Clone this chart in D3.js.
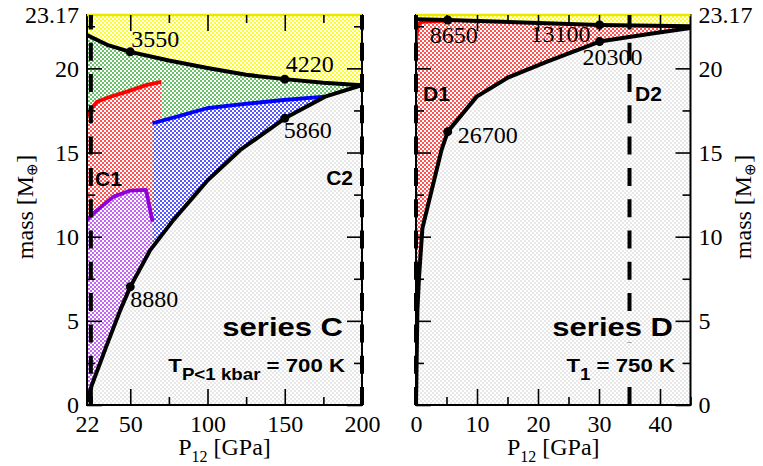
<!DOCTYPE html>
<html>
<head>
<meta charset="utf-8">
<script src="https://cdn.jsdelivr.net/npm/d3@7"></script>
<style>
  body { margin: 0; background: #fff; }
  svg { display: block; }
</style>
</head>
<body>
<svg id="chart" width="763" height="466"></svg>
<script>
// ---- Series C: P12 pressure [GPa] vs. mass [Earth masses] ----
const cUpper  = [[22,21.98],[35,21.4],[50,20.98],[75,20.47],[100,20.02],[125,19.62],[150,19.36],[175,19.15],[200,19.0]];
const cLower  = [[22,0.2],[25.2,1.2],[35,3.6],[43.6,5.65],[50,7.02],[62.9,9.2],[78,11.0],[100.3,13.37],[121.2,15.15],[150,17.03],[176.1,18.32],[200,19.0]];
const cRed    = [[22,17.2],[25.2,17.63],[28.5,18.02],[37.1,18.31],[47.9,18.62],[60.8,19.02],[70,19.2]];
const cBlue   = [[64.4,16.74],[80.2,17.13],[99.6,17.63],[116.8,17.82],[149.2,18.12],[176.1,18.32]];
const cPurple = [[22,11.0],[27.4,11.49],[39.2,12.38],[50,12.74],[60.2,12.78],[64.4,10.9]];
const cMarked = [[50,20.98,"3550"],[150,19.36,"4220"],[150,17.03,"5860"],[50,7.02,"8880"]];
const cDivides = [[24.5,"C1"],[200,"C2"]];
const cXLabels = [22,50,100,150,200];
const cXMajor  = [50,100,150,200];
const cXMinor  = [25,75,125,175];

// ---- Series D ----
const dUpper  = [[0,22.92],[5.2,22.87],[30.1,22.58],[45,22.5]];
const dLower  = [[0,0],[0.12,3.0],[0.23,5.64],[0.5,7.62],[1.05,10.5],[4.18,15.15],[5.2,16.24],[9.95,18.32],[15.16,19.47],[21.5,20.4],[30.1,21.59],[39,22.08],[45,22.4]];
const dRed    = [[0,21.5],[0.1,22.0],[0.35,22.58],[0.9,22.76],[5.2,22.84]];
const dMarked = [[5.2,22.87,"8650"],[30.1,22.58,"13100"],[30.1,21.59,"20300"],[5.2,16.24,"26700"]];
const dDivides = [[0,"D1"],[35,"D2"]];
const dXLabels = [0,10,20,30,40];
const dXMajor  = [10,20,30,40];
const dXMinor  = [5,15,25,35,45];

// ---- shared mass axis ----
const massMax = 23.17;
const yMajor = [0,5,10,15,20];
const yMinor = [2.5,7.5,12.5,17.5,22.5];

// ---- layout ----
const plotTop = 15, plotBottom = 405;
const leftBox  = {x0: 87,  x1: 362};
const rightBox = {x0: 416, x1: 690.5};
const serif = "'Liberation Serif','Times New Roman',Times,serif";
const sans  = "'Liberation Sans',Arial,Helvetica,sans-serif";

// label placement relative to each marked point (px)
const cLabelPos = {"3550":[1,-5,"start"], "4220":[1,-7,"start"], "5860":[-1,20,"start"], "8880":[0,20,"start"]};
const dLabelPos = {"8650":[-18,23,"start"], "13100":[-9,17,"end"], "20300":[-17,23,"start"], "26700":[10,11,"start"]};

const svg = d3.select("#chart");
const defs = svg.append("defs");

// stippled fills
const fills = {
  yellow: ["#ffff00", 1.05], green: ["#2aa82a", 0.95], red: ["#ff1818", 1.0],
  blue: ["#2020ff", 1.0], purple: ["#b030f0", 1.0], grey: ["#dedede", 0.9]
};
Object.entries(fills).forEach(([k, [c, r]]) => {
  const p = defs.append("pattern").attr("id", "dots-" + k)
    .attr("patternUnits", "userSpaceOnUse").attr("width", 4).attr("height", 4);
  p.append("rect").attr("width", 4).attr("height", 4).attr("fill", "#fff");
  p.append("circle").attr("cx", 1).attr("cy", 1).attr("r", r).attr("fill", c);
  p.append("circle").attr("cx", 3).attr("cy", 3).attr("r", r).attr("fill", c);
});

function valueAt(curve, px) {
  for (let i = 0; i < curve.length - 1; i++) {
    const [xa, ya] = curve[i], [xb, yb] = curve[i + 1];
    if (px >= xa && px <= xb) return ya + (yb - ya) * (px - xa) / (xb - xa);
  }
  return curve[curve.length - 1][1];
}
const between = (curve, a, b) => curve.filter(d => d[0] > a && d[0] < b);
const rev = arr => arr.slice().reverse();

function makePanel(id, box, xDomain) {
  const x = d3.scaleLinear().domain(xDomain).range([box.x0, box.x1]);
  const y = d3.scaleLinear().domain([0, massMax]).range([plotBottom, plotTop]);
  const g = svg.append("g").attr("id", id);
  defs.append("clipPath").attr("id", "clip-" + id).append("rect")
    .attr("x", box.x0).attr("y", plotTop).attr("width", box.x1 - box.x0).attr("height", plotBottom - plotTop);
  const inner = g.append("g").attr("clip-path", `url(#clip-${id})`);
  const line = d3.line().x(d => x(d[0])).y(d => y(d[1]));
  const poly = pts => line(pts) + "Z";
  inner.append("rect").attr("x", box.x0).attr("y", plotTop)
    .attr("width", box.x1 - box.x0).attr("height", plotBottom - plotTop).attr("fill", "url(#dots-grey)");
  return {x, y, g, inner, line, poly, box};
}

function region(P, pts, key) {
  P.inner.append("path").attr("d", P.poly(pts)).attr("fill", `url(#dots-${key})`).attr("stroke", "none");
}
function topRegion(P, curve) {
  const area = d3.area().x(d => P.x(d[0])).y0(P.y(massMax)).y1(d => P.y(d[1]));
  P.inner.append("path").attr("d", area(curve)).attr("fill", "url(#dots-yellow)");
}
function stroke(P, curve, color, w) {
  P.inner.append("path").attr("d", P.line(curve)).attr("fill", "none")
    .attr("stroke", color).attr("stroke-width", w).attr("stroke-linejoin", "round");
}
function dividers(P, list) {
  list.forEach(([v]) => {
    P.g.append("line").attr("x1", P.x(v)).attr("x2", P.x(v))
      .attr("y1", P.y(0)).attr("y2", P.y(massMax))
      .attr("stroke", "#000").attr("stroke-width", 4).attr("stroke-dasharray", "18,13.3");
  });
}
function frame(P) {
  const b = P.box;
  P.g.append("rect").attr("x", b.x0).attr("y", plotTop).attr("width", b.x1 - b.x0)
    .attr("height", plotBottom - plotTop).attr("fill", "none").attr("stroke", "#000").attr("stroke-width", 2);
  P.g.append("line").attr("x1", b.x0).attr("x2", b.x1).attr("y1", plotTop).attr("y2", plotTop)
    .attr("stroke", "#e8e800").attr("stroke-width", 2.5);
}
function styleAxis(sel) {
  sel.select(".domain").remove();
  sel.attr("font-family", serif).attr("font-size", 24);
  sel.selectAll(".tick line").attr("stroke", "#000").attr("stroke-width", 1.6);
  sel.selectAll(".tick text").attr("fill", "#000");
}
function axes(P, xLabels, xMajor, xMinor, yLabelSide) {
  const {g, x, y} = P;
  const none = () => "";
  // bottom: labels and major ticks
  g.append("g").attr("transform", `translate(0,${plotBottom})`)
    .call(d3.axisBottom(x).tickValues(xLabels).tickSize(-16).tickPadding(10).tickFormat(d3.format("d")))
    .call(styleAxis);
  g.append("g").attr("transform", `translate(0,${plotBottom})`)
    .call(d3.axisBottom(x).tickValues(xMinor).tickSize(-8).tickFormat(none))
    .call(styleAxis);
  // top
  g.append("g").attr("transform", `translate(0,${plotTop})`)
    .call(d3.axisTop(x).tickValues(xMajor).tickSize(-16).tickFormat(none)).call(styleAxis);
  g.append("g").attr("transform", `translate(0,${plotTop})`)
    .call(d3.axisTop(x).tickValues(xMinor.filter(v => v < x.domain()[1])).tickSize(-8).tickFormat(none)).call(styleAxis);
  // left / right ticks
  [[d3.axisLeft, P.box.x0, "left"], [d3.axisRight, P.box.x1, "right"]].forEach(([mk, px, side]) => {
    const labelled = side === yLabelSide;
    g.append("g").attr("transform", `translate(${px},0)`)
      .call(mk(y).tickValues(yMajor).tickSize(-15).tickPadding(8)
        .tickFormat(labelled ? d3.format("d") : none)).call(styleAxis);
    g.append("g").attr("transform", `translate(${px},0)`)
      .call(mk(y).tickValues(yMinor).tickSize(-8).tickFormat(none)).call(styleAxis);
    if (labelled) {
      g.append("g").attr("transform", `translate(${px},0)`)
        .call(mk(y).tickValues([massMax]).tickSize(0).tickPadding(8).tickFormat(d3.format(".2f")))
        .call(styleAxis);
    }
  });
}
function markers(P, list, pos) {
  list.forEach(([px, m, lab]) => {
    P.g.append("circle").attr("cx", P.x(px)).attr("cy", P.y(m)).attr("r", 4.5).attr("fill", "#000");
    const [dx, dy, anchor] = pos[lab];
    P.g.append("text").attr("x", P.x(px) + dx).attr("y", P.y(m) + dy)
      .attr("text-anchor", anchor).attr("font-family", serif).attr("font-size", 24).attr("fill", "#000").text(lab);
  });
}
function xTitle(P) {
  const t = svg.append("text").attr("x", (P.box.x0 + P.box.x1) / 2).attr("y", 455)
    .attr("text-anchor", "middle").attr("font-family", serif).attr("font-size", 24).attr("fill", "#000");
  t.append("tspan").text("P");
  t.append("tspan").attr("font-size", 16).attr("dy", 6.5).text("12");
  t.append("tspan").attr("dy", -6.5).text(" [GPa]");
}
function yTitle(px) {
  const t = svg.append("text").attr("transform", `translate(${px},207) rotate(-90)`)
    .attr("text-anchor", "middle").attr("font-family", serif).attr("font-size", 24).attr("fill", "#000");
  t.append("tspan").text("mass [M");
  t.append("tspan").attr("font-size", 15).attr("dy", 4).text("\u2295");
  t.append("tspan").attr("dy", -4).text("]");
}
// bold panel caption; the backing keeps divider dashes from running through the words
function caption(xr, yb, sx, build) {
  const holder = svg.append("g");
  const back = holder.append("rect").attr("fill", "url(#dots-grey)");
  const gg = holder.append("g").attr("transform", `translate(${xr},${yb}) scale(${sx},1)`);
  const t = gg.append("text").attr("text-anchor", "end").attr("font-family", sans)
    .attr("font-weight", "bold").attr("fill", "#000");
  build(t);
  const bb = t.node().getBBox();
  back.attr("x", xr + bb.x * sx - 2).attr("y", yb + bb.y - 1)
    .attr("width", bb.width * sx + 4).attr("height", bb.height + 2);
}
function seriesLabel(xr, name, sub, rest) {
  caption(xr, 336, 1.24, t => t.attr("font-size", 25).text(name));
  caption(xr + 2, 372, 1.17, t => {
    t.attr("font-size", 19);
    t.append("tspan").text("T");
    t.append("tspan").attr("font-size", 16).attr("dy", 8).text(sub);
    t.append("tspan").attr("dy", -8).text(rest);
  });
}
function zoneLabel(px, py, txt, anchor) {
  svg.append("text").attr("x", px).attr("y", py).attr("text-anchor", anchor)
    .attr("font-family", sans).attr("font-weight", "bold").attr("font-size", 21).attr("fill", "#000").text(txt);
}

// ===== left panel: series C =====
const C = makePanel("seriesC", leftBox, [22, 200]);
topRegion(C, cUpper);
region(C, cUpper.concat(rev(cLower)), "green");
const blueX0 = cBlue[0][0], blueX1 = cBlue[cBlue.length - 1][0];
region(C, cBlue.concat(rev(between(cLower, blueX0, blueX1)), [[blueX0, valueAt(cLower, blueX0)]]), "blue");
region(C, cPurple.concat([[blueX0, valueAt(cLower, blueX0)]], rev(cLower.filter(d => d[0] < blueX0))), "purple");
const redX1 = cRed[cRed.length - 1][0];
region(C, cRed.concat([[redX1, valueAt(cBlue, redX1)]], rev(cBlue.filter(d => d[0] < redX1)), rev(cPurple)), "red");
stroke(C, cRed, "#ff0000", 3.8);
stroke(C, cBlue, "#0000ff", 3.8);
stroke(C, cPurple, "#9000d8", 3.8);
stroke(C, cUpper, "#000", 4);
stroke(C, cLower, "#000", 4);
frame(C);
axes(C, cXLabels, cXMajor, cXMinor, "left");
dividers(C, cDivides);
markers(C, cMarked, cLabelPos);

// ===== right panel: series D =====
const D = makePanel("seriesD", rightBox, [0, 45]);
topRegion(D, dUpper);
region(D, dLower.concat(rev(dUpper)), "red");
const dRedX1 = dRed[dRed.length - 1][0];
region(D, dUpper.filter(d => d[0] <= dRedX1).concat(rev(dRed)), "green");
stroke(D, dRed, "#ff0000", 3.8);
stroke(D, dUpper, "#000", 4);
stroke(D, dLower, "#000", 4);
frame(D);
axes(D, dXLabels, dXMajor, dXMinor, "right");
dividers(D, dDivides);
markers(D, dMarked, dLabelPos);

// titles and annotations
xTitle(C); xTitle(D);
yTitle(33); yTitle(751);
seriesLabel(343, "series C", "P<1 kbar", " = 700 K");
seriesLabel(673, "series D", "1", " = 750 K");
zoneLabel(95, 186, cDivides[0][1], "start");
zoneLabel(353, 185, cDivides[1][1], "end");
zoneLabel(423, 101, dDivides[0][1], "start");
zoneLabel(635, 101, dDivides[1][1], "start");
</script>
</body>
</html>
